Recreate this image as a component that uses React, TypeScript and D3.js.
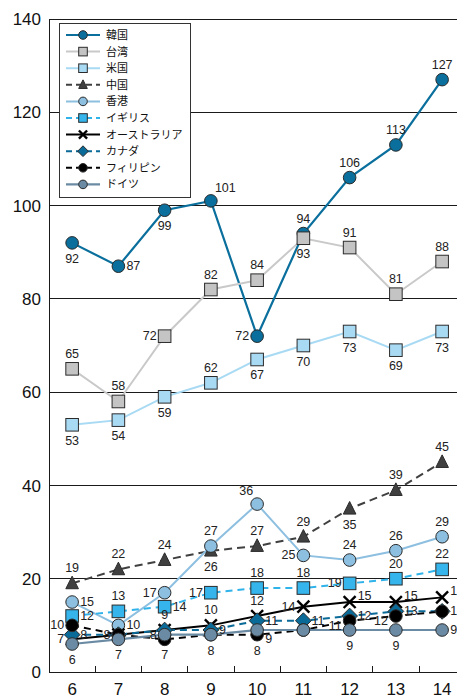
import React from "react";
import * as d3 from "d3";

const years = [6, 7, 8, 9, 10, 11, 12, 13, 14];
const yTicks = [0, 20, 40, 60, 80, 100, 120, 140];

const korea = [92, 87, 99, 101, 72, 94, 106, 113, 127];
const taiwan = [65, 58, 72, 82, 84, 93, 91, 81, 88];
const usa = [53, 54, 59, 62, 67, 70, 73, 69, 73];
const china = [19, 22, 24, 26, 27, 29, 35, 39, 45];
const hongkong = [15, 10, 17, 27, 36, 25, 24, 26, 29];
const uk = [12, 13, 14, 17, 18, 18, 19, 20, 22];
const australia = [7, 8, 9, 10, 12, 14, 15, 15, 16];
const canada = [8, 8, 9, 9, 11, 11, 12, 13, 13];
const philippines = [10, 8, 7, 8, 8, 9, 11, 12, 13];
const germany = [6, 7, 8, 8, 9, 9, 9, 9, 9];

type Marker = "circle" | "square" | "triangle" | "cross" | "diamond";
type Series = {
  name: string;
  values: number[];
  line: string;
  fill: string;
  dash?: string;
  marker: Marker;
  width: number;
  labels: string[];
};

const series: Series[] = [
  { name: "韓国", values: korea, line: "#0a6f9c", fill: "#0a6f9c", marker: "circle", width: 2.2,
    labels: ["b", "r", "b", "tr", "l", "t", "t", "t", "t"] },
  { name: "台湾", values: taiwan, line: "#c9c9c9", fill: "#c4c4c4", marker: "square", width: 2,
    labels: ["t", "t", "l", "t", "t", "b", "t", "t", "t"] },
  { name: "米国", values: usa, line: "#a9daf4", fill: "#a9daf4", marker: "square", width: 2,
    labels: ["b", "b", "b", "t", "b", "b", "b", "b", "b"] },
  { name: "中国", values: china, line: "#404040", fill: "#404040", dash: "8,5", marker: "triangle", width: 2,
    labels: ["t", "t", "t", "b", "t", "t", "b", "t", "t"] },
  { name: "香港", values: hongkong, line: "#8dbfe0", fill: "#8dbfe0", marker: "circle", width: 2,
    labels: ["r", "r", "l", "t", "tl", "l", "t", "t", "t"] },
  { name: "イギリス", values: uk, line: "#2fb3ea", fill: "#35b5ec", dash: "7,5", marker: "square", width: 2,
    labels: ["r", "t", "r", "l", "t", "t", "l", "t", "t"] },
  { name: "オーストラリア", values: australia, line: "#000000", fill: "#000000", marker: "cross", width: 2,
    labels: ["l", "", "t", "t", "t", "l", "ru", "ru", "ru"] },
  { name: "カナダ", values: canada, line: "#0a6a98", fill: "#0a6a98", dash: "7,5", marker: "diamond", width: 2,
    labels: ["r", "", "", "r", "r", "r", "r", "r", "r"] },
  { name: "フィリピン", values: philippines, line: "#000000", fill: "#000000", dash: "7,5", marker: "circle", width: 2,
    labels: ["l", "l", "b", "b", "b", "", "ld", "ld", ""] },
  { name: "ドイツ", values: germany, line: "#6a8ba3", fill: "#6a8ba3", marker: "circle", width: 2.2,
    labels: ["b", "b", "l", "", "rd", "", "b", "b", "r"] },
];

const W = 457;
const H = 699;
const left = 49;
const top = 19;
const bottom = 672;
const step = 46.25;

const x = d3
  .scaleBand<number>()
  .domain(years)
  .range([left, left + step * years.length])
  .padding(0);
const y = d3.scaleLinear().domain([0, 140]).range([bottom, top]);
const cx = (yr: number) => (x(yr) as number) + x.bandwidth() / 2;

const FONT = "'Liberation Sans', Arial, sans-serif";
const JFONT = "'Noto Sans CJK JP', 'Liberation Sans', sans-serif";

function MarkerShape({ kind, px, py, fill, s }: { kind: Marker; px: number; py: number; fill: string; s: number }) {
  const stroke = "#2b2b2b";
  if (kind === "circle") return <circle cx={px} cy={py} r={s} fill={fill} stroke={stroke} strokeWidth={1} />;
  if (kind === "square")
    return <rect x={px - s} y={py - s} width={2 * s} height={2 * s} fill={fill} stroke={stroke} strokeWidth={1} />;
  if (kind === "triangle") {
    const p = `${px},${py - s * 1.15} ${px + s},${py + s * 0.85} ${px - s},${py + s * 0.85}`;
    return <polygon points={p} fill={fill} stroke={stroke} strokeWidth={1} />;
  }
  if (kind === "diamond") {
    const d = s * 1.25;
    const p = `${px},${py - d} ${px + d},${py} ${px},${py + d} ${px - d},${py}`;
    return <polygon points={p} fill={fill} stroke={stroke} strokeWidth={1} />;
  }
  const c = s * 0.95;
  return (
    <g stroke="#000" strokeWidth={2.4}>
      <line x1={px - c} y1={py - c} x2={px + c} y2={py + c} />
      <line x1={px - c} y1={py + c} x2={px + c} y2={py - c} />
    </g>
  );
}

// Label placement codes: t/b/l/r plus a few shifted variants
function labelPos(pos: string, px: number, py: number) {
  switch (pos) {
    case "t": return { lx: px, ly: py - 11, anchor: "middle" };
    case "b": return { lx: px, ly: py + 20, anchor: "middle" };
    case "l": return { lx: px - 8, ly: py + 4, anchor: "end" };
    case "ld": return { lx: px - 8, ly: py + 9, anchor: "end" };
    case "r": return { lx: px + 8, ly: py + 4, anchor: "start" };
    case "ru": return { lx: px + 8, ly: py - 2, anchor: "start" };
    case "rd": return { lx: px + 8, ly: py + 13, anchor: "start" };
    case "tr": return { lx: px + 4, ly: py - 9, anchor: "start" };
    case "tl": return { lx: px - 4, ly: py - 9, anchor: "end" };
    default: return null;
  }
}

export default function App() {
  const lineGen = d3
    .line<number>()
    .x((_, i) => cx(years[i]))
    .y((v) => y(v));

  const xBoundaries = years.slice(1).map((yr) => x(yr) as number);
  const legendX = 59;
  const legendY = 23;
  const legendRow = 16.6;

  return (
    <svg width={W} height={H} style={{ position: "absolute", left: 0, top: 0, background: "#fff" }}>
      {/* horizontal grid */}
      {yTicks.filter((t) => t > 0).map((t) => (
        <line key={t} x1={left} x2={W} y1={y(t)} y2={y(t)} stroke="#1a1a1a" strokeWidth={1} shapeRendering="crispEdges" />
      ))}
      {/* axes */}
      <line x1={left} x2={left} y1={top} y2={bottom} stroke="#1a1a1a" strokeWidth={1} shapeRendering="crispEdges" />
      <line x1={left} x2={W} y1={bottom} y2={bottom} stroke="#1a1a1a" strokeWidth={1} shapeRendering="crispEdges" />
      {xBoundaries.map((bx) => (
        <line key={bx} x1={bx} x2={bx} y1={bottom} y2={bottom - 6} stroke="#1a1a1a" strokeWidth={1} shapeRendering="crispEdges" />
      ))}
      {yTicks.map((t) => (
        <text key={t} x={41} y={y(t)} dy="0.36em" textAnchor="end" fontFamily={FONT} fontSize={17} fill="#111">
          {t}
        </text>
      ))}
      {years.map((yr) => (
        <text key={yr} x={cx(yr)} y={695} textAnchor="middle" fontFamily={FONT} fontSize={17} fill="#111">
          {yr}
        </text>
      ))}

      {/* series lines */}
      {series.map((s) => (
        <path key={s.name} d={lineGen(s.values) || ""} fill="none" stroke={s.line} strokeWidth={s.width} strokeDasharray={s.dash} />
      ))}
      {/* markers */}
      {series.map((s) => (
        <g key={s.name}>
          {s.values.map((v, i) => (
            <MarkerShape key={i} kind={s.marker} px={cx(years[i])} py={y(v)} fill={s.fill} s={6.3} />
          ))}
        </g>
      ))}
      {/* value labels */}
      {series.map((s) => (
        <g key={s.name}>
          {s.values.map((v, i) => {
            const p = labelPos(s.labels[i], cx(years[i]), y(v));
            if (!p) return null;
            return (
              <text key={i} x={p.lx} y={p.ly} textAnchor={p.anchor} fontFamily={FONT} fontSize={12.5} fill="#222">
                {v}
              </text>
            );
          })}
        </g>
      ))}

      {/* legend */}
      <rect x={legendX + 0.5} y={legendY + 0.5} width={131} height={174} fill="#fff" stroke="#333" strokeWidth={1} />
      {series.map((s, i) => {
        const ly = legendY + 12 + i * legendRow;
        return (
          <g key={s.name}>
            <line x1={66} x2={100} y1={ly} y2={ly} stroke={s.line} strokeWidth={s.width} strokeDasharray={s.dash ? "6,4" : undefined} />
            <MarkerShape kind={s.marker} px={83} py={ly} fill={s.fill} s={4.3} />
            <text x={106} y={ly} dy="0.36em" fontFamily={JFONT} fontSize={11} fill="#111">
              {s.name}
            </text>
          </g>
        );
      })}
    </svg>
  );
}
